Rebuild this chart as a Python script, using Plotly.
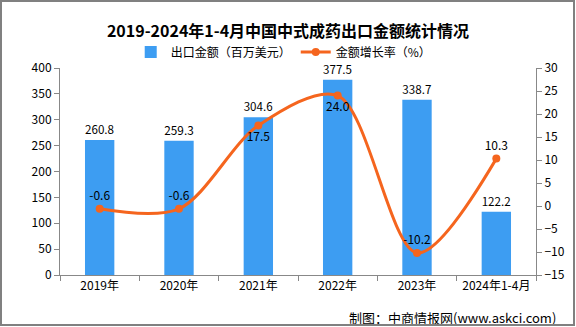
import plotly.graph_objects as go

categories = ["2019年", "2020年", "2021年", "2022年", "2023年", "2024年1-4月"]
export_values = [260.8, 259.3, 304.6, 377.5, 338.7, 122.2]
growth_rates = [-0.6, -0.6, 17.5, 24.0, -10.2, 10.3]
growth_text_pos = ["top center", "top center", "bottom center", "bottom center", "top center", "top center"]
left_ticks = [0, 50, 100, 150, 200, 250, 300, 350, 400]
right_ticks = [-15, -10, -5, 0, 5, 10, 15, 20, 25, 30]

FONT = "Noto Sans CJK SC"
BAR_COLOR = "#3d9df2"
LINE_COLOR = "#f5651e"

fig = go.Figure()
fig.add_trace(go.Bar(
    x=categories, y=export_values, name="出口金额（百万美元）",
    marker=dict(color=BAR_COLOR, line=dict(width=0)),
    width=0.37,
    text=[f"{v:.1f}" for v in export_values], textposition="outside",
    textfont=dict(size=12, color="#000000", family=FONT),
    cliponaxis=False,
))
fig.add_trace(go.Scatter(
    x=categories, y=growth_rates, name="金额增长率（%）", yaxis="y2",
    mode="lines+markers+text",
    line=dict(color=LINE_COLOR, width=3, shape="spline", smoothing=0.9),
    marker=dict(color=LINE_COLOR, size=8),
    text=[f"{v:.1f}" for v in growth_rates], textposition=growth_text_pos,
    textfont=dict(size=12, color="#000000", family=FONT),
    cliponaxis=False,
))

PW, PH = 476.0, 207.0
def px_x(p):
    return (p - 60) / PW
def px_y(p):
    return (275 - p) / PH

annotations = [
    dict(text="制图：中商情报网(www.askci.com)", xref="paper", yref="paper",
         x=1.046, y=-0.203, xanchor="right", yanchor="middle", showarrow=False,
         font=dict(size=13, color="#000000", family=FONT)),
    # outer frame of the picture
    dict(text=" ", xref="paper", yref="paper", x=px_x(287.5), y=px_y(163),
         xanchor="center", yanchor="middle", showarrow=False,
         width=571, height=322, borderpad=0, borderwidth=2, bordercolor="#808080",
         bgcolor="rgba(0,0,0,0)", font=dict(size=1)),
]

fig.update_layout(
    width=576, height=327,
    margin=dict(l=60, r=40, t=68, b=52),
    paper_bgcolor="white", plot_bgcolor="white",
    font=dict(family=FONT, size=12, color="#000000"),
    title=dict(text="<b>2019-2024年1-4月中国中式成药出口金额统计情况</b>",
               x=0.5, xanchor="center", y=0.905, yanchor="middle",
               font=dict(size=16, color="#000000", family=FONT)),
    legend=dict(orientation="h", x=0.47, xanchor="center", y=1.077, yanchor="middle",
                font=dict(size=12, family=FONT), bgcolor="rgba(0,0,0,0)",
                itemwidth=30, traceorder="normal"),
    showlegend=True,
    bargap=0.5,
    xaxis=dict(type="category", showline=True, linecolor="#888888", linewidth=1,
               ticks="outside", tickson="boundaries", ticklen=5, tickcolor="#888888",
               showgrid=False, tickfont=dict(size=12)),
    yaxis=dict(range=[0, 400], tickvals=left_ticks, showline=True, linecolor="#888888",
               ticks="outside", ticklen=5, tickcolor="#888888", showgrid=False, zeroline=False,
               tickfont=dict(size=12)),
    yaxis2=dict(range=[-15, 30], tickvals=right_ticks, overlaying="y", side="right",
                showline=True, linecolor="#888888", ticks="outside", ticklen=5,
                tickcolor="#888888", showgrid=False, zeroline=False,
                tickfont=dict(size=12)),
    annotations=annotations,
)

fig.write_html("out.html")
